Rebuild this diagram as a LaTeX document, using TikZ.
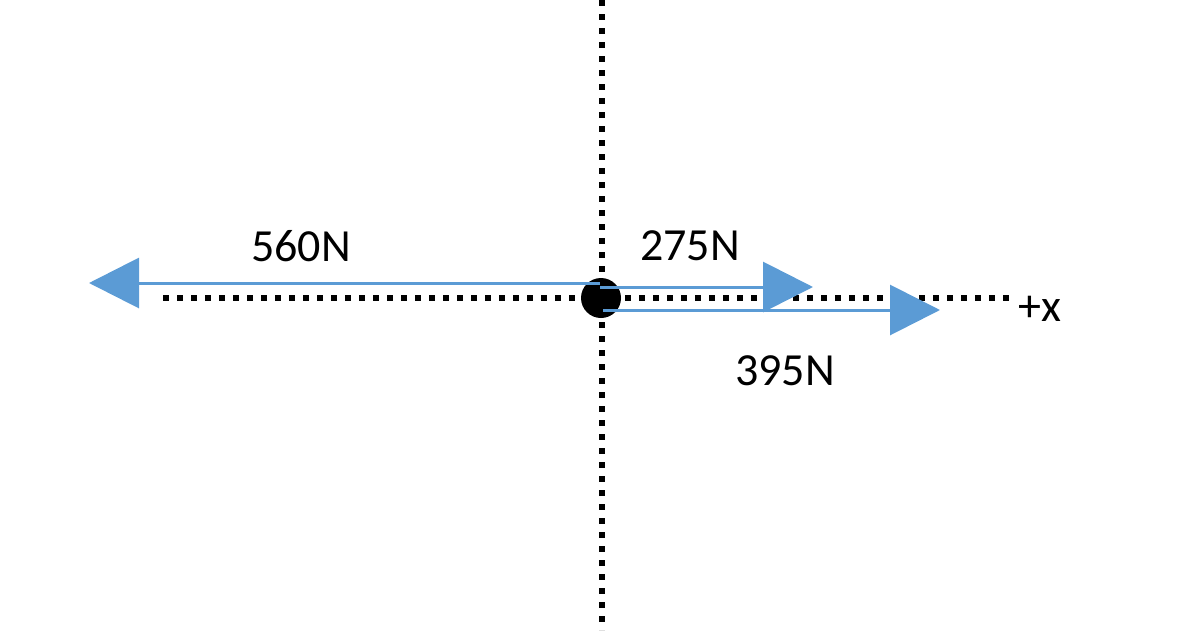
\documentclass[tikz,border=0pt]{standalone}
\usepackage{fontspec}
\setmainfont{Carlito}
\usetikzlibrary{arrows.meta}
\definecolor{vblue}{HTML}{5B9BD5}
\begin{document}
\begin{tikzpicture}[x=1pt,y=-1pt,
  axisline/.style={black,line width=5.5pt,dash pattern=on 5.5pt off 8.5pt},
  force/.style={vblue,line width=3pt,-{Triangle[length=50pt,width=50pt]}},
  lbl/.style={font=\fontsize{46}{52}\selectfont,inner sep=0pt}]
\useasboundingbox (0,0) rectangle (1200,640);
\coordinate (ytop) at (602,0);
\coordinate (ybot) at (602,630);
\coordinate (xl) at (163,298);
\coordinate (xr) at (1015,298);
\draw[axisline] (ytop) -- (ybot);
\draw[axisline] (xl) -- (xr);
\node[circle,fill=black,minimum size=40pt,inner sep=0pt] (O) at (601,298) {};
\coordinate (s1) at (600,283);
\coordinate (t1) at (89,283);
\coordinate (s2) at (600,287);
\coordinate (t2) at (813,287);
\coordinate (s3) at (603,310);
\coordinate (t3) at (940,310);
\draw[force] (s1) -- (t1);
\draw[force] (s2) -- (t2);
\draw[force] (s3) -- (t3);
\node[lbl] (l1) at (301,246) {560N};
\node[lbl] (l2) at (690,246) {275N};
\node[lbl] (l3) at (785,371) {395N};
\node[lbl] (lx) at (1040,309) {+x};
\end{tikzpicture}
\end{document}
